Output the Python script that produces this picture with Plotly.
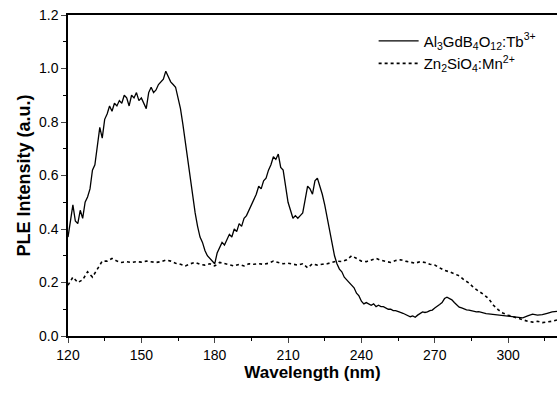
import plotly.graph_objects as go

# Al3GdB4O12:Tb3+ (solid)
tb_x = list(range(120, 301)) + [302, 304, 306, 308, 310, 312, 314, 316, 318, 320]
tb_y = [0.37, 0.44, 0.49, 0.43, 0.42, 0.47, 0.44, 0.50, 0.52, 0.55,
        0.62, 0.64, 0.72, 0.78, 0.74, 0.81, 0.83, 0.86, 0.84, 0.87,
        0.86, 0.88, 0.87, 0.90, 0.89, 0.86, 0.90, 0.89, 0.91, 0.88,
        0.89, 0.87, 0.85, 0.91, 0.93, 0.91, 0.92, 0.94, 0.95, 0.96,
        0.99, 0.97, 0.95, 0.94, 0.93, 0.89, 0.85, 0.79, 0.72, 0.66,
        0.59, 0.53, 0.46, 0.41, 0.37, 0.35, 0.32, 0.30, 0.29, 0.28,
        0.27, 0.31, 0.33, 0.35, 0.34, 0.36, 0.38, 0.37, 0.40, 0.39,
        0.42, 0.41, 0.44, 0.45, 0.47, 0.49, 0.51, 0.53, 0.56, 0.55,
        0.58, 0.59, 0.62, 0.64, 0.67, 0.66, 0.68, 0.63, 0.62, 0.55,
        0.50, 0.47, 0.44, 0.45, 0.44, 0.45, 0.46, 0.51, 0.56, 0.55,
        0.53, 0.58, 0.59, 0.56, 0.53, 0.49, 0.44, 0.39, 0.34, 0.30,
        0.27, 0.25, 0.24, 0.22, 0.21, 0.20, 0.19, 0.18, 0.16, 0.15,
        0.13, 0.12, 0.125, 0.12, 0.115, 0.12, 0.11, 0.115, 0.11, 0.11,
        0.105, 0.10, 0.10, 0.095, 0.095, 0.09, 0.088, 0.085, 0.08, 0.075,
        0.072, 0.075, 0.07, 0.078, 0.085, 0.09, 0.088, 0.09, 0.095, 0.097,
        0.105, 0.11, 0.118, 0.125, 0.14, 0.145, 0.14, 0.135, 0.125, 0.115,
        0.108, 0.105, 0.10, 0.098, 0.097, 0.095, 0.092, 0.09, 0.091, 0.088,
        0.085, 0.084, 0.083, 0.082, 0.08, 0.08, 0.079, 0.078, 0.078, 0.077,
        0.075,
        0.072, 0.07, 0.068, 0.075, 0.082, 0.078, 0.08, 0.085, 0.09, 0.092]

# Zn2SiO4:Mn2+ (dotted)
mn_x = list(range(120, 321, 2))
mn_y = [0.19, 0.22, 0.20, 0.21, 0.24, 0.22, 0.25, 0.28, 0.28, 0.29,
        0.28, 0.275, 0.278, 0.275, 0.278, 0.276, 0.28, 0.277, 0.275, 0.278,
        0.284, 0.28, 0.272, 0.268, 0.262, 0.27, 0.275, 0.268, 0.265, 0.27,
        0.262, 0.275, 0.27, 0.265, 0.262, 0.268, 0.262, 0.27, 0.268, 0.27,
        0.268, 0.272, 0.28, 0.275, 0.27, 0.272, 0.268, 0.265, 0.27, 0.255,
        0.27, 0.265, 0.268, 0.27, 0.275, 0.28, 0.278, 0.285, 0.30, 0.29,
        0.28, 0.278, 0.285, 0.29, 0.283, 0.28, 0.275, 0.282, 0.285, 0.28,
        0.275, 0.272, 0.278, 0.275, 0.268, 0.265, 0.255, 0.245, 0.24, 0.232,
        0.225, 0.21, 0.198, 0.18, 0.168, 0.155, 0.14, 0.115, 0.098, 0.085,
        0.078, 0.072, 0.066, 0.06, 0.055, 0.052, 0.055, 0.05, 0.052, 0.055,
        0.06]

x_ticks = [120, 150, 180, 210, 240, 270, 300]
y_ticks = [0.0, 0.2, 0.4, 0.6, 0.8, 1.0, 1.2]

fig = go.Figure()
fig.add_trace(go.Scatter(
    x=tb_x, y=tb_y, mode="lines",
    name="Al<sub>3</sub>GdB<sub>4</sub>O<sub>12</sub>:Tb<sup>3+</sup>",
    line=dict(color="black", width=1.3),
))
fig.add_trace(go.Scatter(
    x=mn_x, y=mn_y, mode="lines",
    name="Zn<sub>2</sub>SiO<sub>4</sub>:Mn<sup>2+</sup>",
    line=dict(color="black", width=1.6, dash="dot"),
))

font_family = "Liberation Sans, Arial, sans-serif"
fig.update_layout(
    width=557, height=393,
    margin=dict(l=68, r=0, t=15, b=57),
    plot_bgcolor="white", paper_bgcolor="white",
    font=dict(family=font_family, size=14, color="black"),
    showlegend=True,
    legend=dict(x=0.625, y=0.97, xanchor="left", yanchor="top",
                bgcolor="rgba(0,0,0,0)", font=dict(size=15),
                tracegroupgap=0, itemwidth=40),
    xaxis=dict(
        range=[120, 320], tickvals=x_ticks, ticks="outside", ticklen=5,
        tickwidth=1.2, showline=True, linecolor="black", linewidth=1.5,
        mirror=True, showgrid=False, zeroline=False,
        tickfont=dict(size=14),
        minor=dict(dtick=15, tick0=120, ticks="outside", ticklen=3, tickcolor="black"),
        title=dict(text="<b>Wavelength (nm)</b>", font=dict(size=17), standoff=4),
    ),
    yaxis=dict(
        range=[0, 1.2], tickvals=y_ticks, tickformat=".1f", ticks="outside",
        ticklen=5, tickwidth=1.2, showline=True, linecolor="black", linewidth=1.5,
        showgrid=False, zeroline=False,
        tickfont=dict(size=14),
        minor=dict(dtick=0.1, tick0=0, ticks="outside", ticklen=3, tickcolor="black"),
        title=dict(text="<b>PLE Intensity (a.u.)</b>", font=dict(size=18), standoff=4),
    ),
)

fig.write_html("out.html")
